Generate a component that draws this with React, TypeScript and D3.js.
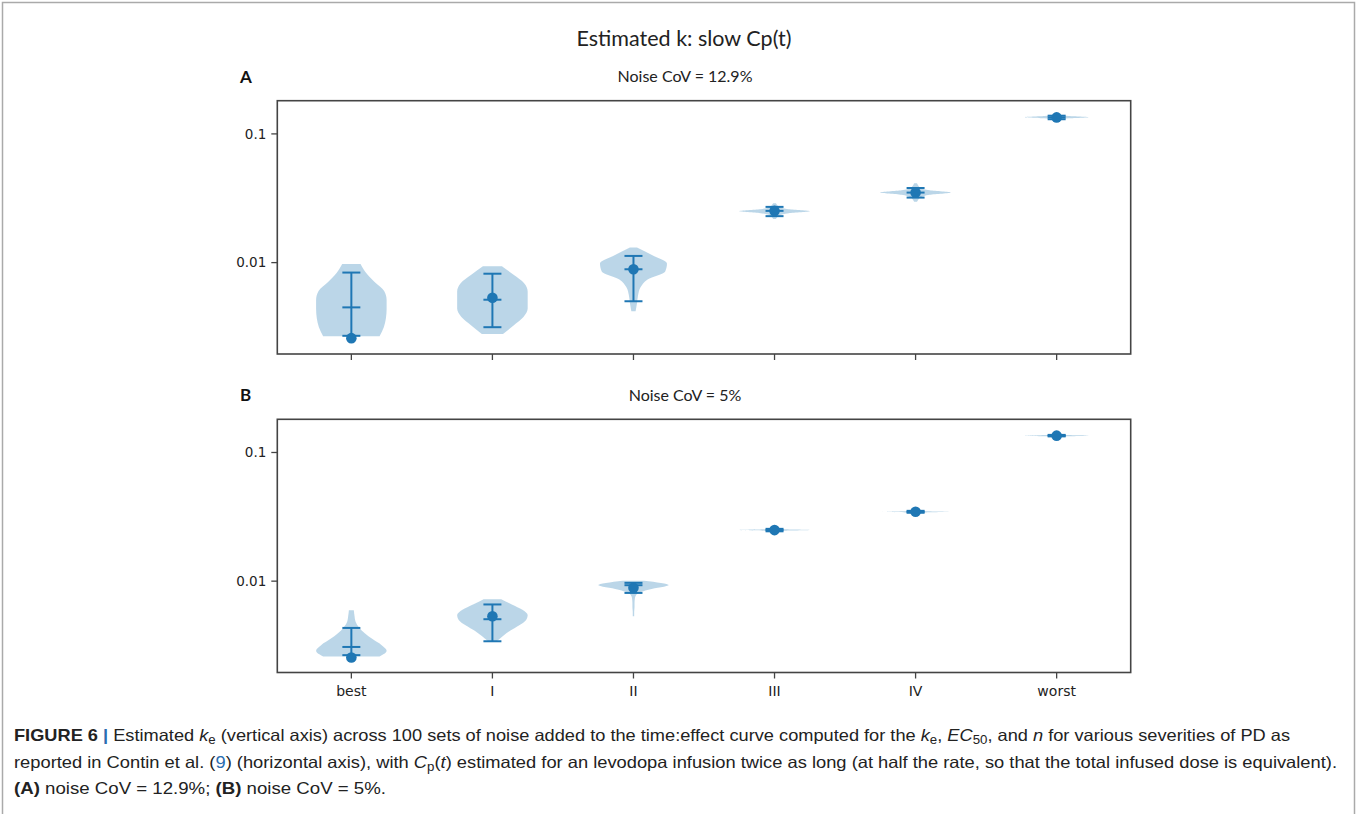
import React from 'react';
import * as d3 from 'd3';

// values (k_e, log scale)
const categories = ['best', 'I', 'II', 'III', 'IV', 'worst'];
const yTicks = [0.1, 0.01];
const yTickLabels = ['0.1', '0.01'];

// panel A, noise CoV = 12.9%
const dotA = [0.00259, 0.00533, 0.00888, 0.02523, 0.035, 0.1343];
const capHiA = [0.00837, 0.0082, 0.01127, 0.0271, 0.038, 0.1385];
const capMidA = [0.00449, 0.00515, 0.00888, 0.02523, 0.035, 0.1343];
const capLoA = [0.0027, 0.00315, 0.00501, 0.02296, 0.032, 0.13];
const violinHiA = [0.00977, 0.00936, 0.0131, 0.0289, 0.0413, 0.146];
const violinLoA = [0.00268, 0.00279, 0.00419, 0.0218, 0.0297, 0.1245];
const widthsA = [
  [0.26, 0.42, 0.66, 0.93, 1, 1, 0.98, 0.92, 0.8],
  [0.27, 0.6, 0.9, 1, 1, 1, 0.88, 0.6, 0.3],
  [0.1, 0.55, 0.95, 0.9, 0.4, 0.2, 0.13, 0.1, 0.06],
  [0.04, 0.08, 0.15, 0.4, 1, 0.4, 0.15, 0.08, 0.04],
  [0.04, 0.08, 0.15, 0.4, 1, 0.4, 0.15, 0.08, 0.04],
  [0.02, 0.04, 0.1, 0.35, 0.9, 0.35, 0.1, 0.04, 0.02],
];

// panel B, noise CoV = 5%
const dotB = [0.00255, 0.00534, 0.00887, 0.02494, 0.0346, 0.1352];
const capHiB = [0.00433, 0.00659, 0.0097, 0.0255, 0.0352, 0.137];
const capMidB = [0.00308, 0.00506, 0.0093, 0.02494, 0.0346, 0.1352];
const capLoB = [0.00266, 0.00341, 0.0081, 0.0244, 0.034, 0.1334];
const violinHiB = [0.00594, 0.00724, 0.01009, 0.0262, 0.0362, 0.141];
const violinLoB = [0.0026, 0.00341, 0.00534, 0.0238, 0.0331, 0.1296];
const widthsB = [
  [0.07, 0.09, 0.12, 0.22, 0.38, 0.6, 0.85, 1, 0.8],
  [0.25, 0.55, 0.85, 1, 0.95, 0.75, 0.5, 0.3, 0.12],
  [0.3, 1, 0.45, 0.1, 0.04, 0.03, 0.03, 0.02, 0.02],
  [0.02, 0.04, 0.08, 0.3, 1, 0.3, 0.08, 0.04, 0.02],
  [0.02, 0.04, 0.08, 0.3, 1, 0.3, 0.08, 0.04, 0.02],
  [0.02, 0.04, 0.08, 0.3, 0.9, 0.3, 0.08, 0.04, 0.02],
];

const BLUE = '#1f77b4';
const W = 1357;
const H = 814;
const plotLeft = 277.3;
const plotRight = 1130.7;

const x = d3.scaleLinear().domain([0.475, 6.525]).range([plotLeft, plotRight]);
const halfW = x(1.25) - x(1);

function Panel({ top, bottom, dots, capHi, capMid, capLo, vHi, vLo, widths, showLabels }) {
  const y = d3.scaleLog().domain([0.00195, 0.1811]).range([bottom, top]);

  const area = d3
    .area<{ v: number; w: number; cx: number }>()
    .y(d => y(d.v))
    .x0(d => d.cx - d.w * halfW)
    .x1(d => d.cx + d.w * halfW)
    .curve(d3.curveMonotoneY);

  return (
    <g>
      {categories.map((c, i) => {
        const cx = x(i + 1);
        const n = widths[i].length;
        const lhi = Math.log10(vHi[i]);
        const llo = Math.log10(vLo[i]);
        const pts = widths[i].map((w, j) => ({
          v: Math.pow(10, lhi + ((llo - lhi) * j) / (n - 1)),
          w,
          cx,
        }));
        return <path key={'v' + c} d={area(pts)} fill={BLUE} fillOpacity={0.3} stroke="none" />;
      })}
      {categories.map((c, i) => {
        const cx = x(i + 1);
        return (
          <g key={'e' + c} stroke={BLUE} strokeWidth={2}>
            <line x1={cx} x2={cx} y1={y(capHi[i])} y2={y(capLo[i])} />
            <line x1={cx - 9} x2={cx + 9} y1={y(capHi[i])} y2={y(capHi[i])} />
            <line x1={cx - 9} x2={cx + 9} y1={y(capMid[i])} y2={y(capMid[i])} />
            <line x1={cx - 9} x2={cx + 9} y1={y(capLo[i])} y2={y(capLo[i])} />
            <circle cx={cx} cy={y(dots[i])} r={5.3} fill={BLUE} stroke="none" />
          </g>
        );
      })}
      <rect
        x={plotLeft}
        y={top}
        width={plotRight - plotLeft}
        height={bottom - top}
        fill="none"
        stroke="#444"
        strokeWidth={1.6}
      />
      {yTicks.map((t, i) => (
        <g key={'y' + t}>
          <line x1={plotLeft - 6} x2={plotLeft} y1={y(t)} y2={y(t)} stroke="#444" strokeWidth={1.3} />
          <text
            x={plotLeft - 11}
            y={y(t)}
            dy="0.35em"
            textAnchor="end"
            fontFamily="DejaVu Sans"
            fontSize={13.5}
            fill="#222"
          >
            {yTickLabels[i]}
          </text>
        </g>
      ))}
      {categories.map((c, i) => (
        <g key={'x' + c}>
          <line x1={x(i + 1)} x2={x(i + 1)} y1={bottom} y2={bottom + 6} stroke="#444" strokeWidth={1.3} />
          {showLabels && (
            <text
              x={x(i + 1)}
              y={bottom + 23}
              textAnchor="middle"
              fontFamily="DejaVu Sans"
              fontSize={14}
              fill="#222"
            >
              {c}
            </text>
          )}
        </g>
      ))}
    </g>
  );
}

export default function App() {
  const capFont = 'Liberation Sans, Arial, sans-serif';
  return (
    <div style={{ position: 'absolute', left: 0, top: 0 }}>
      <svg width={W} height={H} style={{ display: 'block', background: '#fff' }}>
        <path d={`M2.5,${H} V2.5 H1354.5 V${H}`} fill="none" stroke="#aaa" strokeWidth={1.5} />

        <text x={684} y={46} textAnchor="middle" fontFamily="Lato" fontSize={21.5} fill="#222">
          Estimated k: slow Cp(t)
        </text>

        <text x={240} y={83} fontFamily="Lato" fontWeight="bold" fontSize={17} fill="#111">
          A
        </text>
        <text x={685} y={82} textAnchor="middle" fontFamily="Lato" fontSize={16} fill="#222">
          Noise CoV = 12.9%
        </text>
        <Panel
          top={100.7}
          bottom={354}
          dots={dotA}
          capHi={capHiA}
          capMid={capMidA}
          capLo={capLoA}
          vHi={violinHiA}
          vLo={violinLoA}
          widths={widthsA}
          showLabels={false}
        />

        <text x={240} y={401} fontFamily="Lato" fontWeight="bold" fontSize={17} fill="#111">
          B
        </text>
        <text x={685} y={401} textAnchor="middle" fontFamily="Lato" fontSize={16} fill="#222">
          Noise CoV = 5%
        </text>
        <Panel
          top={419.3}
          bottom={672.5}
          dots={dotB}
          capHi={capHiB}
          capMid={capMidB}
          capLo={capLoB}
          vHi={violinHiB}
          vLo={violinLoB}
          widths={widthsB}
          showLabels={true}
        />

        <g fontFamily={capFont} fontSize={16.5} fill="#222">
          <text x={14} y={741} textLength={1276} lengthAdjust="spacingAndGlyphs">
            <tspan fontWeight="bold">FIGURE 6 </tspan>
            <tspan fontWeight="bold" fill="#2a6db0">|</tspan>
            <tspan> Estimated </tspan>
            <tspan fontStyle="italic">k</tspan>
            <tspan fontSize={12} dy={3}>e</tspan>
            <tspan dy={-3}> (vertical axis) across 100 sets of noise added to the time:effect curve computed for the </tspan>
            <tspan fontStyle="italic">k</tspan>
            <tspan fontSize={12} dy={3}>e</tspan>
            <tspan dy={-3}>, </tspan>
            <tspan fontStyle="italic">EC</tspan>
            <tspan fontSize={12} dy={3}>50</tspan>
            <tspan dy={-3}>, and </tspan>
            <tspan fontStyle="italic">n</tspan>
            <tspan> for various severities of PD as</tspan>
          </text>
          <text x={14} y={768} textLength={1323} lengthAdjust="spacingAndGlyphs">
            <tspan>reported in Contin et al. (</tspan>
            <tspan fill="#2a6db0">9</tspan>
            <tspan>) (horizontal axis), with </tspan>
            <tspan fontStyle="italic">C</tspan>
            <tspan fontSize={12} dy={3}>p</tspan>
            <tspan dy={-3}>(</tspan>
            <tspan fontStyle="italic">t</tspan>
            <tspan>) estimated for an levodopa infusion twice as long (at half the rate, so that the total infused dose is equivalent).</tspan>
          </text>
          <text x={14} y={794} textLength={372} lengthAdjust="spacingAndGlyphs">
            <tspan fontWeight="bold">(A)</tspan>
            <tspan> noise CoV = 12.9%; </tspan>
            <tspan fontWeight="bold">(B)</tspan>
            <tspan> noise CoV = 5%.</tspan>
          </text>
        </g>
      </svg>
    </div>
  );
}
